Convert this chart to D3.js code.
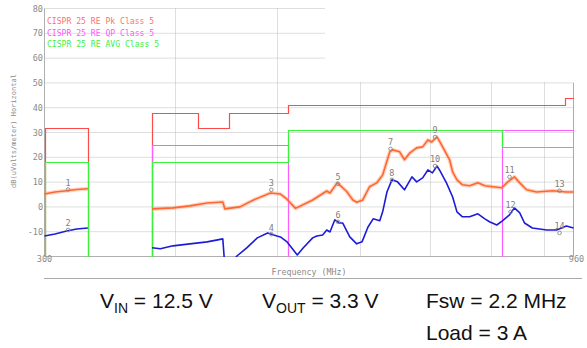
<!DOCTYPE html>
<html><head><meta charset="utf-8">
<script src="https://cdn.jsdelivr.net/npm/d3@7"></script>
<style>body{margin:0;background:#fff}svg{display:block}</style>
</head><body>
<svg id="c" width="587" height="348"></svg>
<script>
// ---- data ----
const yTicks = [80, 70, 60, 50, 40, 30, 20, 10, 0, -10];
const xTickLabels = [300, 960];
const xGrid = [400, 500, 600, 700, 800, 900];
const legendLabels = ["CISPR 25 RE Pk Class 5", "CISPR 25 RE QP Class 5", "CISPR 25 RE AVG Class 5"];
// limit bands: [fStart, fEnd, level dB]
const pkBands = [[300,330,32],[380,420,38],[420,450,32],[450,512,38],[512,943,41],[943,960,44]];
const qpBands = [[380,512,25],[820,960,31]];
const avgBands = [[300,330,18],[380,512,18],[512,820,31],[820,960,24]];
// peak trace [MHz, dB]
const peakBand1 = [[300,5.2],[307,6.0],[315,6.5],[322,7.0],[330,7.3]];
const peakBand2 = [[380,-0.8],[398,-0.4],[413,0.4],[429,1.6],[444,2.0],[446,-0.8],[461,0],[475,2.8],[493,5.6],[504,5.2],[511,3.2],[521,-0.6],[541,2.8],[558,6.4],[562,5.6],[571,9.7],[574,8.9],[583,6.2],[591,2.8],[596,1.9],[604,2.8],[613,8.1],[623,9.7],[631,12.9],[641,22.2],[645,23.0],[655,22.2],[662,19.0],[670,21.8],[680,23.8],[689,24.2],[697,27.0],[703,26.2],[711,28.2],[712,27.8],[720,24.2],[731,19.0],[736,14.1],[743,10.9],[752,8.9],[764,8.5],[778,9.7],[790,8.5],[804,8.1],[820,7.7],[831,10.1],[843,12.1],[853,9.7],[866,6.9],[885,6.0],[917,6.5],[945,6.0],[960,6.0]];
// average trace [MHz, dB]
const avgBand1 = [[300,-11.7],[307,-10.9],[315,-9.7],[322,-8.9],[330,-8.5]];
const avgBand2 = [[380,-16.5],[387,-16.9],[398,-15.7],[413,-14.9],[429,-14.1],[444,-12.9],[446,-24],[452,-23],[458,-19.8],[468,-16.5],[479,-12.5],[490,-10.5],[500,-11.7],[504,-12.1],[511,-14.0],[523,-19.4],[530,-16.5],[541,-12.5],[546,-11.7],[553,-11.3],[558,-9.3],[562,-10.1],[568,-5.2],[574,-6.5],[578,-6.5],[587,-12.1],[596,-14.9],[603,-14.1],[611,-8.1],[618,-4.8],[627,-5.6],[631,-2.0],[637,6.0],[644,10.9],[652,10.1],[662,6.9],[673,12.1],[680,10.1],[689,11.7],[697,14.9],[704,13.7],[711,16.5],[715,14.9],[726,9.7],[736,4.0],[743,-2.0],[752,-4.0],[764,-4.0],[778,-2.8],[790,-4.8],[798,-6.0],[811,-7.3],[821,-5.6],[834,-3.2],[843,-0.4],[853,-2.4],[862,-6.5],[877,-8.5],[905,-9.3],[925,-9.3],[945,-7.7],[960,-8.5]];
// markers
const markerIds = [1,2,3,4,5,6,7,8,9,10,11,12,13,14];
const markerFreqs = [316,316,494,494,572,572,642,644,708,708,834,836,931,931];
const markerVals = [7.0,-9.3,6.9,-11.0,9.3,-6.0,23.4,10.9,28.2,16.5,12.1,-2.0,6.5,-10.5];

// ---- drawing ----
const svg = d3.select("#c");
const x = d3.scaleLog().domain([300, 960]).range([44.5, 573.5]);
const y = d3.scaleLinear().domain([-20, 80]).range([256.5, 8.5]);
const mono = "'DejaVu Sans Mono', monospace";
const grey = "#8a8a8a";

svg.append("defs").append("clipPath").attr("id","clip")
  .append("rect").attr("x",44).attr("y",8).attr("width",530).attr("height",249);

// grid
const g = svg.append("g");
g.selectAll(".hg").data(yTicks).join("line")
  .attr("x1", x(300)).attr("x2", x(960)).attr("y1", d => y(d)).attr("y2", d => y(d))
  .attr("stroke", "#bdbdbd").attr("stroke-dasharray", "1,1");
g.selectAll(".vg").data(xGrid).join("line")
  .attr("x1", d => Math.round(x(d)) + 0.5).attr("x2", d => Math.round(x(d)) + 0.5)
  .attr("y1", y(80)).attr("y2", y(-20))
  .attr("stroke", "#bdbdbd").attr("stroke-dasharray", "1,1");

// erased upper-right region
svg.append("rect").attr("x", 325).attr("y", 0).attr("width", 262).attr("height", 82).attr("fill", "#fff");

// axes frame
svg.append("line").attr("x1", x(300)).attr("x2", x(300)).attr("y1", y(80)).attr("y2", y(-20)).attr("stroke", "#b0b0b0");
svg.append("line").attr("x1", x(300)).attr("x2", x(960)).attr("y1", y(-20)).attr("y2", y(-20)).attr("stroke", "#b0b0b0");
svg.append("line").attr("x1", x(960)).attr("x2", x(960)).attr("y1", 83).attr("y2", y(-20)).attr("stroke", "#b0b0b0");

// y tick labels
svg.selectAll(".yl").data(yTicks).join("text")
  .attr("x", 43).attr("y", d => y(d) + 3)
  .attr("text-anchor", "end").attr("font-family", mono).attr("font-size", 8.5)
  .attr("fill", grey).text(d => d);
// x tick labels
svg.selectAll(".xl").data(xTickLabels).join("text")
  .attr("x", d => x(d) + (d === 960 ? 3 : 0)).attr("y", 262)
  .attr("text-anchor", "middle").attr("font-family", mono).attr("font-size", 8.5)
  .attr("fill", grey).text(d => d);
// titles
svg.append("text").attr("x", 309).attr("y", 275).attr("text-anchor", "middle")
  .attr("font-family", mono).attr("font-size", 8.3).attr("fill", grey).text("Frequency (MHz)");
svg.append("line").attr("x1", 44).attr("x2", 582).attr("y1", 278.5).attr("y2", 278.5).attr("stroke", "#aaa");
svg.append("text").attr("transform", "translate(16,131) rotate(-90)").attr("text-anchor", "middle")
  .attr("font-family", mono).attr("font-size", 7).attr("fill", grey).text("dB(uVolts/meter) Horizontal");

// legend
const legendColors = ["#ff7070", "#ff55ff", "#44ee44"];
svg.selectAll(".lg").data(legendLabels).join("text")
  .attr("x", 47).attr("y", (d, i) => 24 + i * 11.5)
  .attr("font-family", mono).attr("font-size", 8.1).attr("fill", (d, i) => legendColors[i]).text(d => d);

const plot = svg.append("g").attr("clip-path", "url(#clip)");

// limit lines
function groups(b) {
  const out = []; let cur = null;
  b.forEach(s => { if (cur && cur[cur.length - 1][1] === s[0]) cur.push(s); else { cur = [s]; out.push(cur); } });
  return out;
}
function bandPts(gr) {
  const pts = [[gr[0][0], -20]];
  gr.forEach(s => { pts.push([s[0], s[2]]); pts.push([s[1], s[2]]); });
  pts.push([gr[gr.length - 1][1], -20]);
  return pts;
}
const stepLine = d3.line().x(d => Math.round(x(d[0])) + 0.5).y(d => Math.round(y(d[1])) + 0.5);
[[pkBands, "#ff4a4a"], [qpBands, "#ff5cff"], [avgBands, "#3cf03c"]].forEach(([b, c]) => {
  groups(b).forEach(gr => {
    plot.append("path").attr("d", stepLine(bandPts(gr))).attr("fill", "none")
      .attr("stroke", c).attr("stroke-width", 1.2);
  });
});

// traces
const line = d3.line().x(d => x(d[0])).y(d => y(d[1]));
[peakBand1, peakBand2].forEach(seg => {
  plot.append("path").attr("d", line(seg)).attr("fill", "none")
    .attr("stroke", "#ff8a5a").attr("stroke-width", 4).attr("stroke-opacity", 0.35).attr("stroke-linejoin", "round");
  plot.append("path").attr("d", line(seg)).attr("fill", "none")
    .attr("stroke", "#ff6630").attr("stroke-width", 1.6).attr("stroke-linejoin", "round");
});
[avgBand1, avgBand2].forEach(seg => {
  plot.append("path").attr("d", line(seg)).attr("fill", "none")
    .attr("stroke", "#1c1cd8").attr("stroke-width", 1.6).attr("stroke-linejoin", "round");
});

// markers
const mk = svg.append("g");
markerIds.forEach((id, i) => {
  const mx = x(markerFreqs[i]), my = y(markerVals[i]);
  mk.append("circle").attr("cx", mx).attr("cy", my).attr("r", 1.8)
    .attr("fill", "none").attr("stroke", "#888").attr("stroke-width", 0.9);
  mk.append("text").attr("x", mx).attr("y", my - 3.5).attr("text-anchor", "middle")
    .attr("font-family", mono).attr("font-size", 8.5).attr("fill", "#808080").text(id);
});

// operating conditions
const sans = "'Liberation Sans', Arial, sans-serif";
function cond(xp, yp, main, sub, rest) {
  const t = svg.append("text").attr("x", xp).attr("y", yp).attr("font-family", sans)
    .attr("font-size", 21).attr("fill", "#111");
  t.append("tspan").text(main);
  if (sub) {
    t.append("tspan").attr("font-size", 14).attr("dy", 5).text(sub);
    t.append("tspan").attr("dy", -5).text(rest);
  }
  return t;
}
cond(100, 308, "V", "IN", " = 12.5 V");
cond(262, 308, "V", "OUT", " = 3.3 V");
cond(426, 308, "Fsw = 2.2 MHz");
cond(426, 340, "Load = 3 A");
</script>
</body></html>
